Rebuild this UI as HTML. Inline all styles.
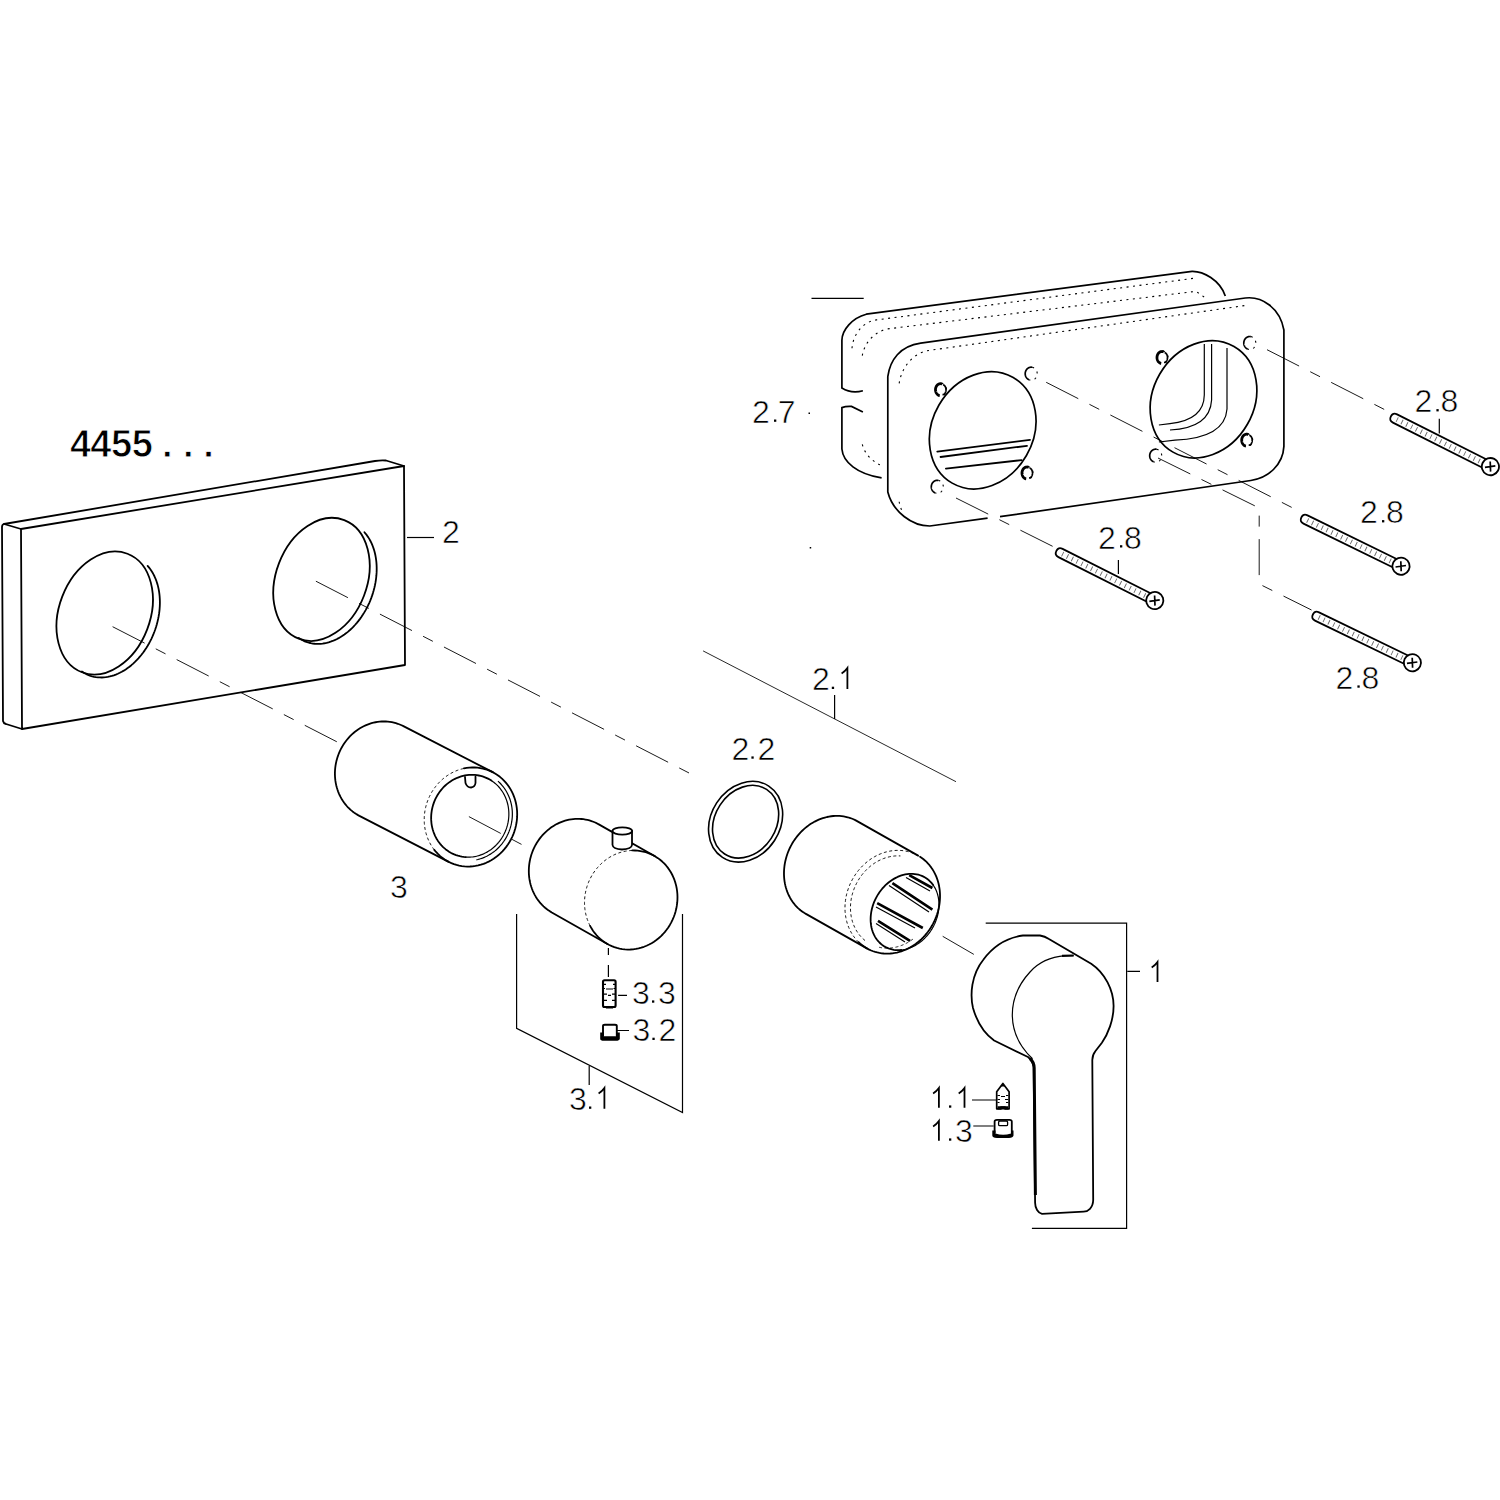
<!DOCTYPE html>
<html><head><meta charset="utf-8"><style>
html,body{margin:0;padding:0;background:#fff;}
svg{display:block;}
.k{fill:none;stroke:#000;stroke-width:1.8;stroke-linejoin:round;stroke-linecap:round;}
.t{fill:none;stroke:#000;stroke-width:1.2;}
.r{fill:none;stroke:#000;stroke-width:1.6;}
.boss{fill:none;stroke:#000;stroke-width:2.8;}
.kb{fill:none;stroke:#000;stroke-width:1.7;}
.d{fill:none;stroke:#000;stroke-width:0.9;stroke-dasharray:3 2.5;}
.dot{fill:none;stroke:#000;stroke-width:1.1;stroke-dasharray:2 4.5;}
.cl{fill:none;stroke:#000;stroke-width:0.9;stroke-dasharray:36 12.5 11 12.5;}
.hatch{fill:none;stroke:#000;stroke-width:5;stroke-dasharray:0.9 4.5;opacity:0.6;}
.lbl{font-family:"Liberation Sans",sans-serif;font-size:32px;fill:#000;stroke:#fff;stroke-width:0.6;letter-spacing:-1px;}
.g1{fill:none;stroke:#000;stroke-width:1.8;}
.title{font-family:"Liberation Sans",sans-serif;font-size:38px;font-weight:bold;fill:#000;stroke:#fff;stroke-width:0.9;}
</style></head><body>
<svg width="1500" height="1500" viewBox="0 0 1500 1500">
<rect width="1500" height="1500" fill="#fff"/>
<path class="k" d="M21,529 L4,524 Q2,524.5 2,527 L3,721 Q3.5,723.5 6,724 L22,729"/>
<path class="k" d="M4,524 L375,461 Q381,460 386,460.5 L404,466"/>
<path class="k" d="M21,529 L404,466 L405,665 L22,729 Z"/>
<ellipse class="k" cx="0" cy="0" rx="45.50" ry="63.50" transform="translate(104.70,613.00) rotate(21.00)"/>
<path class="k" d="M147.61,565.87 L148.92,567.40 L150.17,569.02 L151.35,570.71 L152.46,572.49 L153.50,574.34 L154.46,576.27 L155.35,578.26 L156.17,580.33 L156.90,582.45 L157.56,584.63 L158.14,586.87 L158.64,589.15 L159.05,591.49 L159.38,593.87 L159.63,596.28 L159.80,598.73 L159.88,601.21 L159.88,603.72 L159.79,606.25 L159.62,608.79 L159.37,611.35 L159.03,613.91 L158.61,616.48 L158.10,619.05 L157.52,621.61 L156.86,624.17 L156.12,626.71 L155.30,629.23 L154.40,631.72 L153.43,634.19 L152.39,636.63 L151.27,639.03 L150.09,641.39 L148.84,643.71 L147.52,645.98 L146.14,648.19 L144.71,650.36 L143.21,652.46 L141.66,654.49 L140.06,656.46 L138.40,658.36 L136.70,660.18 L134.96,661.93 L133.18,663.60 L131.36,665.18 L129.50,666.68 L127.62,668.09 L125.70,669.41 L123.76,670.64 L121.80,671.77 L119.83,672.80 L117.83,673.73 L115.83,674.57 L113.82,675.30 L111.81,675.92 L109.80,676.45 L107.79,676.86 L105.78,677.17 L103.79,677.38 L101.81,677.48 L99.85,677.46 L97.91,677.35 L95.99,677.12 L94.10,676.79 L92.24,676.35 L90.42,675.81 L88.63,675.16 L86.88,674.41 L85.18,673.56 L83.52,672.60 L81.91,671.55"/>
<ellipse class="k" cx="0" cy="0" rx="45.50" ry="63.50" transform="translate(321.50,579.40) rotate(21.00)"/>
<path class="k" d="M364.41,532.27 L365.72,533.80 L366.97,535.42 L368.15,537.11 L369.26,538.89 L370.30,540.74 L371.26,542.67 L372.15,544.66 L372.97,546.73 L373.70,548.85 L374.36,551.03 L374.94,553.27 L375.44,555.55 L375.85,557.89 L376.18,560.27 L376.43,562.68 L376.60,565.13 L376.68,567.61 L376.68,570.12 L376.59,572.65 L376.42,575.19 L376.17,577.75 L375.83,580.31 L375.41,582.88 L374.90,585.45 L374.32,588.01 L373.66,590.57 L372.92,593.11 L372.10,595.63 L371.20,598.12 L370.23,600.59 L369.19,603.03 L368.07,605.43 L366.89,607.79 L365.64,610.11 L364.32,612.38 L362.94,614.59 L361.51,616.76 L360.01,618.86 L358.46,620.89 L356.86,622.86 L355.20,624.76 L353.50,626.58 L351.76,628.33 L349.98,630.00 L348.16,631.58 L346.30,633.08 L344.42,634.49 L342.50,635.81 L340.56,637.04 L338.60,638.17 L336.63,639.20 L334.63,640.13 L332.63,640.97 L330.62,641.70 L328.61,642.32 L326.60,642.85 L324.59,643.26 L322.58,643.57 L320.59,643.78 L318.61,643.88 L316.65,643.86 L314.71,643.75 L312.79,643.52 L310.90,643.19 L309.04,642.75 L307.22,642.21 L305.43,641.56 L303.68,640.81 L301.98,639.96 L300.32,639.00 L298.71,637.95"/>
<path class="t" d="M407,537.5 L434,537.5"/>
<path class="k" d="M448.69,861.84 L359.39,815.84 L357.60,814.86 L355.86,813.80 L354.16,812.65 L352.52,811.42 L350.94,810.11 L349.42,808.73 L347.96,807.27 L346.56,805.75 L345.23,804.15 L343.98,802.49 L342.79,800.76 L341.69,798.98 L340.66,797.15 L339.71,795.26 L338.84,793.32 L338.05,791.35 L337.35,789.33 L336.74,787.27 L336.21,785.19 L335.77,783.07 L335.42,780.94 L335.17,778.78 L335.00,776.61 L334.92,774.42 L334.93,772.23 L335.04,770.04 L335.23,767.85 L335.52,765.67 L335.89,763.49 L336.36,761.33 L336.91,759.19 L337.55,757.08 L338.28,754.99 L339.09,752.93 L339.98,750.91 L340.95,748.92 L342.01,746.98 L343.14,745.09 L344.34,743.25 L345.62,741.46 L346.97,739.73 L348.38,738.06 L349.86,736.45 L351.40,734.92 L353.00,733.45 L354.66,732.06 L356.37,730.74 L358.12,729.50 L359.93,728.34 L361.77,727.27 L363.66,726.28 L365.57,725.38 L367.52,724.57 L369.50,723.85 L371.50,723.22 L373.52,722.69 L375.55,722.25 L377.60,721.91 L379.65,721.66 L381.71,721.51 L383.76,721.45 L385.81,721.49 L387.86,721.63 L389.89,721.87 L391.90,722.20 L393.89,722.63 L395.86,723.15 L397.80,723.77 L399.71,724.48 L401.58,725.28 L403.41,726.16 L492.71,772.16"/>
<path class="k" d="M463.90,768.44 L466.62,767.95 L469.36,767.62 L472.10,767.46 L474.84,767.48 L477.56,767.67 L480.26,768.03 L482.92,768.57 L485.55,769.27 L488.12,770.13 L490.63,771.16 L493.07,772.35 L495.44,773.70 L497.71,775.19 L499.90,776.83 L501.98,778.61 L503.95,780.53 L505.81,782.57 L507.54,784.73 L509.15,787.00 L510.63,789.38 L511.96,791.85 L513.15,794.41 L514.19,797.05 L515.09,799.76 L515.82,802.53 L516.40,805.35 L516.82,808.21 L517.09,811.10 L517.18,814.01 L517.12,816.93 L516.90,819.85 L516.51,822.77 L515.97,825.66 L515.27,828.52 L514.41,831.34 L513.40,834.11 L512.25,836.82 L510.94,839.47 L509.50,842.03 L507.92,844.51 L506.22,846.89 L504.39,849.17 L502.44,851.34 L500.38,853.38 L498.22,855.30 L495.97,857.09 L493.62,858.74 L491.20,860.24 L488.70,861.59 L486.14,862.79 L483.53,863.82 L480.87,864.70 L478.18,865.41 L475.46,865.95 L472.73,866.31 L469.99,866.51 L467.25,866.54 L464.52,866.39 L461.81,866.07 L459.14,865.58 L456.50,864.92 L453.92,864.10 L451.39,863.11 L448.93,861.96 L446.55,860.65 L444.25,859.20 L442.04,857.59 L439.93,855.85 L437.93,853.96 L436.04,851.95 L434.28,849.82"/>
<path class="d" d="M434.28,849.82 L433.44,848.71 L432.64,847.58 L431.87,846.41 L431.13,845.23 L430.43,844.01 L429.76,842.78 L429.13,841.52 L428.53,840.24 L427.97,838.93 L427.45,837.61 L426.97,836.28 L426.52,834.92 L426.12,833.55 L425.75,832.17 L425.42,830.77 L425.13,829.36 L424.88,827.94 L424.67,826.51 L424.50,825.07 L424.36,823.63 L424.27,822.17 L424.23,820.72 L424.22,819.26 L424.25,817.80 L424.32,816.34 L424.43,814.88 L424.58,813.42 L424.78,811.96 L425.01,810.51 L425.28,809.06 L425.59,807.62 L425.94,806.19 L426.33,804.77 L426.76,803.36 L427.23,801.96 L427.73,800.58 L428.27,799.20 L428.85,797.85 L429.47,796.51 L430.12,795.19 L430.80,793.88 L431.53,792.60 L432.28,791.34 L433.07,790.10 L433.89,788.89 L434.74,787.69 L435.63,786.53 L436.54,785.39 L437.49,784.28 L438.46,783.19 L439.46,782.14 L440.49,781.12 L441.55,780.13 L442.63,779.17 L443.73,778.24 L444.86,777.34 L446.01,776.49 L447.19,775.66 L448.38,774.87 L449.59,774.12 L450.82,773.41 L452.07,772.73 L453.33,772.10 L454.61,771.50 L455.91,770.94 L457.21,770.42 L458.53,769.94 L459.86,769.51 L461.20,769.11 L462.54,768.76 L463.90,768.44"/>
<path class="k" d="M465.65,857.08 L463.69,856.89 L461.75,856.60 L459.83,856.20 L457.94,855.70 L456.07,855.09 L454.25,854.39 L452.46,853.58 L450.72,852.68 L449.03,851.68 L447.39,850.59 L445.81,849.41 L444.30,848.15 L442.85,846.80 L441.47,845.37 L440.16,843.87 L438.93,842.29 L437.79,840.64 L436.72,838.94 L435.74,837.17 L434.86,835.34 L434.06,833.47 L433.35,831.55 L432.74,829.59 L432.23,827.60 L431.81,825.58 L431.49,823.53 L431.28,821.46 L431.16,819.38 L431.14,817.29 L431.23,815.19 L431.41,813.10 L431.69,811.02 L432.08,808.95 L432.56,806.89 L433.14,804.86 L433.81,802.86 L434.58,800.89 L435.44,798.97 L436.39,797.08 L437.42,795.25 L438.54,793.47 L439.74,791.74 L441.02,790.08 L442.38,788.49 L443.80,786.97 L445.30,785.52 L446.86,784.15 L448.47,782.87 L450.15,781.67 L451.87,780.56 L453.64,779.54 L455.46,778.62 L457.31,777.79 L459.20,777.06 L461.11,776.43 L463.04,775.91 L465.00,775.48 L466.96,775.17 L468.94,774.96 L470.92,774.85 L472.89,774.85 L474.86,774.96 L476.81,775.18 L478.75,775.50 L480.67,775.92 L482.55,776.45 L484.41,777.08 L486.22,777.81 L488.00,778.64 L489.73,779.57 L491.41,780.59"/>
<path class="t" d="M491.41,780.59 L492.61,781.41 L493.78,782.27 L494.92,783.18 L496.03,784.14 L497.09,785.14 L498.12,786.19 L499.11,787.27 L500.06,788.40 L500.96,789.57 L501.82,790.78 L502.64,792.02 L503.41,793.29 L504.13,794.60 L504.81,795.94 L505.43,797.30 L506.01,798.69 L506.53,800.11 L507.00,801.55 L507.42,803.01 L507.79,804.49 L508.11,805.98 L508.37,807.49 L508.57,809.01 L508.72,810.54 L508.82,812.08 L508.86,813.62 L508.85,815.17 L508.78,816.72 L508.66,818.26 L508.48,819.81 L508.25,821.34 L507.96,822.88 L507.62,824.40 L507.23,825.91 L506.78,827.40 L506.28,828.88 L505.73,830.34 L505.13,831.78 L504.48,833.20 L503.78,834.59 L503.04,835.96 L502.25,837.30 L501.41,838.61 L500.52,839.89 L499.60,841.13 L498.63,842.34 L497.62,843.51 L496.57,844.64 L495.49,845.73 L494.37,846.78 L493.21,847.79 L492.02,848.75 L490.80,849.66 L489.56,850.53 L488.28,851.35 L486.98,852.12 L485.65,852.83 L484.30,853.50 L482.93,854.11 L481.55,854.67 L480.14,855.17 L478.72,855.62 L477.29,856.01 L475.85,856.34 L474.40,856.62 L472.95,856.84 L471.49,857.01 L470.03,857.11 L468.57,857.16 L467.11,857.15 L465.65,857.08"/>
<path class="t" d="M497.96,781.18 L498.96,782.09 L499.94,783.03 L500.88,784.01 L501.79,785.03 L502.67,786.07 L503.51,787.14 L504.32,788.25 L505.10,789.38 L505.84,790.54 L506.54,791.72 L507.21,792.93 L507.84,794.17 L508.43,795.42 L508.98,796.70 L509.49,798.00 L509.96,799.31 L510.39,800.64 L510.77,801.99 L511.12,803.35 L511.42,804.73 L511.69,806.12 L511.91,807.51 L512.08,808.92 L512.22,810.33 L512.31,811.75 L512.35,813.17 L512.36,814.60 L512.32,816.02 L512.24,817.45 L512.11,818.88 L511.94,820.30 L511.73,821.72 L511.48,823.13 L511.18,824.53 L510.84,825.93 L510.46,827.32 L510.04,828.69 L509.58,830.05 L509.08,831.40 L508.53,832.73 L507.95,834.05 L507.33,835.34 L506.67,836.62 L505.98,837.87 L505.24,839.11 L504.47,840.32 L503.67,841.50 L502.83,842.66 L501.96,843.79 L501.06,844.89 L500.12,845.97 L499.15,847.01 L498.15,848.02 L497.13,849.00 L496.08,849.94 L495.00,850.85 L493.89,851.73 L492.76,852.57 L491.61,853.37 L490.43,854.13 L489.24,854.85 L488.02,855.54 L486.79,856.18 L485.53,856.78 L484.27,857.34 L482.99,857.86 L481.69,858.34 L480.38,858.77 L479.07,859.16 L477.74,859.50 L476.40,859.80"/>
<path class="k" d="M465,777 L465.5,783 Q467,787.5 471,787.5 Q475,787 475.5,783 L475.5,776.5"/>
<path class="k" d="M607.48,944.02 L551.78,912.42 L550.03,911.37 L548.33,910.24 L546.68,909.02 L545.09,907.73 L543.55,906.35 L542.08,904.91 L540.68,903.39 L539.34,901.80 L538.07,900.15 L536.87,898.44 L535.76,896.67 L534.71,894.84 L533.75,892.96 L532.87,891.03 L532.07,889.06 L531.36,887.05 L530.73,885.00 L530.19,882.92 L529.74,880.81 L529.37,878.67 L529.10,876.52 L528.92,874.35 L528.83,872.17 L528.83,869.98 L528.92,867.79 L529.10,865.60 L529.37,863.41 L529.73,861.24 L530.18,859.07 L530.72,856.93 L531.34,854.81 L532.06,852.72 L532.85,850.65 L533.73,848.62 L534.69,846.63 L535.74,844.68 L536.85,842.78 L538.05,840.93 L539.31,839.14 L540.65,837.40 L542.05,835.72 L543.52,834.10 L545.06,832.55 L546.65,831.07 L548.29,829.67 L549.99,828.34 L551.74,827.09 L553.54,825.92 L555.38,824.83 L557.26,823.83 L559.17,822.92 L561.11,822.09 L563.08,821.36 L565.08,820.72 L567.10,820.17 L569.13,819.71 L571.17,819.35 L573.22,819.09 L575.28,818.92 L577.34,818.85 L579.39,818.88 L581.43,819.00 L583.47,819.23 L585.48,819.54 L587.48,819.96 L589.45,820.46 L591.40,821.06 L593.31,821.76 L595.19,822.54 L597.03,823.42 L598.82,824.38 L654.52,855.98"/>
<path class="k" d="M632.29,850.47 L635.02,850.48 L637.75,850.66 L640.45,851.02 L643.11,851.54 L645.74,852.23 L648.31,853.09 L650.83,854.12 L653.27,855.30 L655.64,856.64 L657.92,858.13 L660.11,859.76 L662.19,861.54 L664.17,863.44 L666.03,865.48 L667.78,867.64 L669.39,869.90 L670.87,872.28 L672.21,874.75 L673.40,877.30 L674.45,879.94 L675.35,882.65 L676.10,885.41 L676.68,888.23 L677.11,891.09 L677.38,893.98 L677.48,896.89 L677.43,899.81 L677.21,902.73 L676.83,905.64 L676.30,908.54 L675.60,911.40 L674.75,914.22 L673.75,917.00 L672.60,919.71 L671.30,922.36 L669.86,924.93 L668.29,927.41 L666.59,929.79 L664.77,932.08 L662.82,934.25 L660.77,936.30 L658.61,938.22 L656.36,940.02 L654.02,941.67 L651.60,943.18 L649.11,944.54 L646.55,945.74 L643.94,946.78 L641.28,947.66 L638.59,948.38 L635.88,948.93 L633.14,949.30 L630.40,949.51 L627.66,949.54 L624.93,949.40 L622.23,949.09 L619.55,948.61 L616.91,947.96 L614.32,947.14 L611.80,946.15 L609.33,945.01 L606.95,943.71 L604.64,942.26 L602.43,940.66 L600.32,938.92 L598.31,937.05 L596.42,935.04 L594.65,932.91 L593.00,930.67 L591.49,928.33 L590.11,925.88"/>
<path class="d" d="M590.11,925.88 L589.48,924.62 L588.88,923.34 L588.32,922.04 L587.80,920.73 L587.31,919.39 L586.86,918.04 L586.45,916.67 L586.08,915.28 L585.74,913.89 L585.45,912.48 L585.20,911.06 L584.98,909.63 L584.81,908.19 L584.67,906.75 L584.58,905.30 L584.53,903.84 L584.52,902.38 L584.54,900.92 L584.61,899.46 L584.72,898.00 L584.87,896.54 L585.06,895.08 L585.29,893.63 L585.56,892.18 L585.86,890.74 L586.21,889.31 L586.60,887.89 L587.02,886.48 L587.49,885.08 L587.99,883.69 L588.53,882.32 L589.10,880.96 L589.71,879.62 L590.36,878.30 L591.05,876.99 L591.76,875.71 L592.52,874.44 L593.30,873.20 L594.12,871.99 L594.97,870.79 L595.85,869.63 L596.77,868.48 L597.71,867.37 L598.68,866.28 L599.68,865.23 L600.71,864.20 L601.76,863.21 L602.84,862.24 L603.94,861.31 L605.07,860.42 L606.22,859.56 L607.39,858.73 L608.58,857.94 L609.79,857.18 L611.02,856.47 L612.27,855.79 L613.53,855.15 L614.81,854.55 L616.10,853.98 L617.40,853.46 L618.72,852.98 L620.05,852.54 L621.39,852.14 L622.73,851.78 L624.08,851.47 L625.44,851.19 L626.81,850.96 L628.17,850.78 L629.54,850.63 L630.91,850.53 L632.29,850.47"/>
<path class="k" fill="#fff" style="fill:#fff" d="M612.5,831 L612.5,845 Q613,849 622,849.5 Q631.5,849 632,845 L632,831 Z"/>
<ellipse class="k" style="fill:#fff" cx="622.3" cy="831" rx="9.8" ry="3.6"/>
<path class="t" d="M516.6,914 L516.6,1028.3 L682.5,1112.6 L682.5,914"/>
<path class="t" d="M589.2,1066 L589.2,1085"/>
<path class="t" d="M608.4,948 L608.4,955 M608.4,965 L608.4,977"/>
<rect style="fill:none;stroke:#000;stroke-width:2.1" x="603" y="980.2" width="12.6" height="26.8" rx="1.5"/>
<path class="t" d="M603.5,984.3 L606,984.3 M613,984.3 L615,984.3 M603.5,988.5 L605,988.5 M613.5,988.5 L615,988.5 M606,989 L613,989 M603.5,994.1 L607,994.1 M612,994.1 L615,994.1 M608,995.4 L611,995.4 M603.5,1000.4 L607,1000.4 M612,1000.4 L615,1000.4 M618.1,995.4 L627,995.4 M617,1030.5 L629,1030.5"/>
<path style="fill:#000" d="M605,1006 L614,1006 L613,1008.5 L606,1008.5 Z"/>
<path style="fill:none;stroke:#000;stroke-width:1.9" d="M603,1036 L603,1026 Q603,1024.8 604.8,1024.8 L615,1024.8 Q616.8,1024.8 616.8,1026 L616.8,1036"/>
<path style="fill:#000" d="M600.2,1032.5 L603.8,1032.5 L603.8,1036.3 L616,1036.3 L616,1032.5 L619.8,1032.5 L619.8,1038.8 Q619.3,1040.8 616,1040.8 L604,1040.8 Q600.2,1040.8 600.2,1038.8 Z"/>
<ellipse class="r" cx="0" cy="0" rx="34.50" ry="42.50" transform="translate(745.60,821.70) rotate(33.00)"/>
<ellipse class="r" cx="0" cy="0" rx="30.50" ry="38.50" transform="translate(745.60,821.70) rotate(33.00)"/>
<path class="k" d="M866.91,948.40 L805.91,913.90 L804.16,912.85 L802.47,911.72 L800.83,910.50 L799.26,909.19 L797.74,907.80 L796.30,906.33 L794.92,904.79 L793.61,903.17 L792.38,901.49 L791.23,899.73 L790.15,897.92 L789.15,896.04 L788.24,894.11 L787.41,892.13 L786.67,890.10 L786.02,888.02 L785.45,885.91 L784.98,883.75 L784.59,881.57 L784.30,879.36 L784.10,877.12 L783.99,874.87 L783.98,872.60 L784.06,870.32 L784.23,868.04 L784.49,865.76 L784.85,863.48 L785.30,861.20 L785.84,858.94 L786.46,856.70 L787.18,854.48 L787.98,852.28 L788.87,850.11 L789.84,847.98 L790.89,845.88 L792.03,843.83 L793.24,841.82 L794.52,839.87 L795.88,837.96 L797.30,836.12 L798.80,834.34 L800.36,832.62 L801.97,830.97 L803.65,829.39 L805.38,827.89 L807.16,826.46 L808.99,825.11 L810.87,823.85 L812.78,822.67 L814.73,821.58 L816.71,820.58 L818.73,819.68 L820.76,818.86 L822.82,818.14 L824.90,817.52 L826.99,817.00 L829.08,816.57 L831.19,816.24 L833.29,816.02 L835.39,815.89 L837.48,815.87 L839.56,815.95 L841.62,816.12 L843.67,816.40 L845.69,816.78 L847.68,817.26 L849.64,817.84 L851.57,818.51 L853.45,819.28 L855.29,820.14 L857.09,821.10 L918.09,855.60"/>
<path class="k" d="M920.04,856.78 L921.82,857.99 L923.53,859.30 L925.18,860.70 L926.76,862.19 L928.26,863.77 L929.68,865.43 L931.02,867.17 L932.28,868.99 L933.45,870.88 L934.53,872.84 L935.52,874.86 L936.42,876.94 L937.22,879.08 L937.92,881.26 L938.53,883.49 L939.03,885.76 L939.43,888.07 L939.73,890.41 L939.93,892.77 L940.02,895.15 L940.01,897.55 L939.89,899.95 L939.68,902.37 L939.36,904.78 L938.93,907.18 L938.41,909.57 L937.79,911.95 L937.06,914.30 L936.24,916.63 L935.33,918.93 L934.32,921.19 L933.22,923.40 L932.03,925.58 L930.75,927.69 L929.40,929.76 L927.96,931.76 L926.44,933.70 L924.85,935.57 L923.19,937.36 L921.46,939.08 L919.67,940.72 L917.82,942.27 L915.91,943.73 L913.96,945.11 L911.95,946.39 L909.91,947.57 L907.82,948.66 L905.71,949.64 L903.56,950.52 L901.39,951.29 L899.20,951.95 L897.00,952.51 L894.78,952.95 L892.56,953.29 L890.35,953.51 L888.13,953.62 L885.93,953.62 L883.74,953.50 L881.56,953.28 L879.42,952.94 L877.30,952.49 L875.21,951.93 L873.16,951.26 L871.16,950.48 L869.20,949.60 L867.29,948.61 L865.44,947.53 L863.64,946.34 L861.91,945.06 L860.24,943.68 L858.65,942.21"/>
<path class="d" d="M858.65,942.21 L857.29,940.82 L855.98,939.36 L854.74,937.84 L853.57,936.26 L852.47,934.62 L851.43,932.91 L850.47,931.16 L849.58,929.35 L848.76,927.50 L848.02,925.60 L847.36,923.66 L846.78,921.69 L846.28,919.67 L845.86,917.63 L845.52,915.56 L845.26,913.47 L845.08,911.36 L844.99,909.23 L844.98,907.08 L845.05,904.93 L845.21,902.78 L845.45,900.62 L845.77,898.46 L846.17,896.31 L846.65,894.18 L847.21,892.05 L847.86,889.94 L848.58,887.86 L849.37,885.79 L850.25,883.76 L851.19,881.76 L852.21,879.79 L853.30,877.86 L854.46,875.98 L855.68,874.14 L856.97,872.34 L858.32,870.60 L859.73,868.92 L861.19,867.29 L862.71,865.72 L864.29,864.22 L865.91,862.78 L867.58,861.41 L869.29,860.12 L871.04,858.89 L872.83,857.74 L874.66,856.67 L876.51,855.68 L878.40,854.76 L880.31,853.93 L882.24,853.19 L884.18,852.53 L886.15,851.95 L888.12,851.47 L890.10,851.07 L892.09,850.76 L894.07,850.54 L896.05,850.41 L898.03,850.37 L900.00,850.41 L901.95,850.55 L903.89,850.78 L905.81,851.10 L907.70,851.51 L909.57,852.01 L911.41,852.59 L913.21,853.26 L914.98,854.02 L916.71,854.85 L918.40,855.77 L920.04,856.78"/>
<path class="d" d="M865.00,940.49 L863.84,939.52 L862.73,938.51 L861.66,937.44 L860.62,936.33 L859.63,935.17 L858.69,933.96 L857.79,932.71 L856.94,931.42 L856.14,930.09 L855.39,928.72 L854.68,927.32 L854.03,925.88 L853.43,924.41 L852.89,922.91 L852.40,921.38 L851.96,919.82 L851.58,918.24 L851.25,916.63 L850.98,915.01 L850.76,913.37 L850.61,911.71 L850.51,910.04 L850.46,908.36 L850.48,906.67 L850.55,904.98 L850.68,903.28 L850.86,901.58 L851.10,899.88 L851.40,898.18 L851.75,896.49 L852.16,894.80 L852.63,893.13 L853.14,891.46 L853.72,889.81 L854.34,888.18 L855.02,886.57 L855.74,884.98 L856.52,883.41 L857.35,881.86 L858.22,880.34 L859.14,878.86 L860.11,877.40 L861.12,875.98 L862.17,874.59 L863.26,873.24 L864.40,871.93 L865.57,870.66 L866.78,869.43 L868.02,868.25 L869.30,867.11 L870.60,866.02 L871.94,864.98 L873.31,863.99 L874.70,863.05 L876.11,862.17 L877.55,861.34 L879.01,860.56 L880.49,859.84 L881.98,859.18 L883.49,858.57 L885.01,858.03 L886.54,857.54 L888.08,857.12 L889.62,856.75 L891.17,856.45 L892.72,856.21 L894.27,856.03 L895.82,855.91 L897.36,855.86 L898.89,855.87 L900.42,855.94"/>
<path class="d" d="M912.97,939.08 L912.52,939.42 L912.06,939.75 L911.60,940.07 L911.14,940.39 L910.68,940.70 L910.21,941.01 L909.74,941.31 L909.27,941.60 L908.79,941.89 L908.31,942.17 L907.83,942.45 L907.35,942.72 L906.87,942.98 L906.38,943.24 L905.89,943.49 L905.40,943.74 L904.91,943.97 L904.41,944.21 L903.92,944.43 L903.42,944.65 L902.92,944.87 L902.42,945.07 L901.91,945.27 L901.41,945.47 L900.90,945.65 L900.40,945.83 L899.89,946.01 L899.38,946.17 L898.87,946.34 L898.36,946.49 L897.85,946.64 L897.33,946.78 L896.82,946.91 L896.31,947.04 L895.79,947.16 L895.28,947.27 L894.76,947.38 L894.24,947.48 L893.73,947.57 L893.21,947.66 L892.69,947.73 L892.18,947.81 L891.66,947.87 L891.14,947.93 L890.63,947.98 L890.11,948.02 L889.60,948.06 L889.08,948.09 L888.57,948.12 L888.05,948.13 L887.54,948.14 L887.03,948.14 L886.51,948.14 L886.00,948.13 L885.49,948.11 L884.98,948.08 L884.48,948.05 L883.97,948.01 L883.46,947.97 L882.96,947.91 L882.46,947.85 L881.96,947.79 L881.46,947.71 L880.96,947.63 L880.46,947.54 L879.97,947.45 L879.48,947.35 L878.99,947.24 L878.50,947.12 L878.01,947.00 L877.53,946.87"/>
<path class="k" d="M901.34,950.00 L899.42,950.14 L897.52,950.15 L895.65,950.04 L893.80,949.81 L891.99,949.46 L890.22,948.99 L888.50,948.40 L886.82,947.69 L885.21,946.87 L883.66,945.94 L882.18,944.90 L880.76,943.76 L879.43,942.51 L878.18,941.17 L877.01,939.73 L875.93,938.21 L874.94,936.60 L874.05,934.91 L873.26,933.15 L872.56,931.32 L871.97,929.43 L871.49,927.48 L871.11,925.49 L870.84,923.45 L870.68,921.38 L870.62,919.27 L870.68,917.14 L870.85,915.00 L871.12,912.84 L871.50,910.69 L871.99,908.53 L872.58,906.39 L873.28,904.27 L874.07,902.17 L874.97,900.10 L875.96,898.07 L877.04,896.09 L878.21,894.15 L879.46,892.27 L880.80,890.46 L882.21,888.71 L883.70,887.04 L885.25,885.45 L886.87,883.95 L888.54,882.53 L890.27,881.21 L892.04,879.98 L893.85,878.86 L895.70,877.84 L897.57,876.94 L899.47,876.14 L901.39,875.46 L903.31,874.90 L905.25,874.45 L907.18,874.13 L909.10,873.93 L911.01,873.84 L912.90,873.88 L914.76,874.05 L916.59,874.33 L918.39,874.73 L920.14,875.25 L921.84,875.89 L923.48,876.65 L925.07,877.52 L926.59,878.50 L928.05,879.58 L929.43,880.77 L930.73,882.06 L931.94,883.44 L933.07,884.92"/>
<path class="t" d="M933.07,884.92 L933.67,885.79 L934.24,886.69 L934.78,887.62 L935.29,888.57 L935.77,889.54 L936.21,890.54 L936.63,891.56 L937.01,892.60 L937.36,893.66 L937.67,894.74 L937.95,895.83 L938.20,896.95 L938.42,898.07 L938.60,899.22 L938.74,900.37 L938.85,901.54 L938.93,902.72 L938.97,903.90 L938.97,905.10 L938.95,906.30 L938.88,907.51 L938.78,908.72 L938.65,909.94 L938.48,911.16 L938.28,912.38 L938.04,913.60 L937.77,914.81 L937.47,916.03 L937.13,917.24 L936.76,918.44 L936.36,919.64 L935.92,920.83 L935.45,922.01 L934.96,923.18 L934.43,924.34 L933.87,925.49 L933.28,926.63 L932.66,927.74 L932.01,928.85 L931.34,929.93 L930.64,931.00 L929.91,932.05 L929.16,933.07 L928.38,934.08 L927.57,935.06 L926.75,936.02 L925.90,936.96 L925.03,937.87 L924.14,938.75 L923.23,939.61 L922.30,940.43 L921.35,941.23 L920.39,942.00 L919.41,942.74 L918.42,943.44 L917.41,944.12 L916.39,944.76 L915.35,945.37 L914.31,945.94 L913.25,946.48 L912.19,946.99 L911.12,947.46 L910.05,947.89 L908.96,948.28 L907.88,948.64 L906.79,948.96 L905.70,949.25 L904.61,949.49 L903.51,949.70 L902.42,949.87 L901.34,950.00"/>
<clipPath id="bore"><ellipse cx="0" cy="0" rx="31.5" ry="39.5" transform="translate(904.8,912) rotate(30)"/></clipPath>
<g clip-path="url(#bore)"><path style="fill:none;stroke:#000;stroke-width:2.6" d="M892.4,883.2 L932.4,909.6 M877.2,903.2 L922.8,928 M878,920.8 L910,940.8 M909.2,875.2 L932.4,888"/><path class="t" d="M889,885.5 L929,912 M876,907 L915,928 M876,923.5 L905,942 M906,877.5 L930,891"/></g>
<path class="t" d="M834.6,695 L834.6,719"/>
<path class="k" d="M1022.9,935.5 L1040,935.5 Q1045,936.5 1048.5,938.7 L1091.2,963.7 C1105,973 1113.6,990 1113.6,1006 C1113.6,1020 1108,1034 1101.9,1042.7 L1095.5,1051 Q1092.3,1055 1092.3,1060 L1093.2,1200 C1093,1208 1088,1211.5 1083.6,1211.7 L1042,1213.9 C1038,1213 1035.1,1208 1035.1,1202.7 L1033.6,1067 Q1033,1061 1028,1057 L994.1,1040.5 C985,1034 977,1022 973,1008 C970,995 971,975 983.5,959.5 C992,948 1005,938 1022.9,935.5 Z"/>
<path style="fill:none;stroke:#000;stroke-width:3" d="M1030,1058.5 Q1034,1062 1034.2,1068 L1035.4,1195"/>
<path class="t" d="M1073.6,955.7 L1065,955.7 C1050,957 1038,963 1030,972 C1018,985 1012.3,1000 1012.3,1015 C1012.5,1032 1020,1047 1032.5,1058.7"/>
<path style="fill:none;stroke:#000;stroke-width:2.2" d="M1062,955.8 L1073.6,955.5"/>
<path class="t" d="M985.7,923.1 L1126.6,923.1 L1126.6,1228.3 L1031.9,1228.3 M1127.4,971.4 L1140,971.4"/>
<path class="t" d="M972,1100 L996,1100 M973.3,1126 L993.7,1126"/>
<path style="fill:none;stroke:#000;stroke-width:1.7;stroke-linejoin:round" d="M996.7,1108.8 L996.7,1091.8 L1002.9,1083.5 L1009.1,1091.8 L1009.1,1108.8 L1005,1108.8 L1005,1107 L1001,1107 L1001,1108.8 Z"/>
<path style="fill:#000" d="M1001,1086.5 L1002.9,1083.5 L1005,1086.5 Z M997.5,1106.3 L1008.3,1106.3 L1008.3,1109.6 L997.5,1109.6 Z"/>
<path class="t" d="M997.5,1095.5 L1000,1095.5 M1006,1095.5 L1008.3,1095.5 M1001,1096.5 L1005,1096.5 M997.5,1099.5 L1000,1099.5 M1005,1099.5 L1008.3,1099.5 M997.5,1102.5 L999.5,1102.5 M1006,1102.5 L1008.3,1102.5"/>
<path style="fill:none;stroke:#000;stroke-width:1.8" d="M994.6,1133 L994.6,1121.5 Q994.6,1119.8 997,1119.8 L1009.5,1119.8 Q1011.8,1119.8 1011.8,1121.5 L1011.8,1133"/>
<rect style="fill:none;stroke:#000;stroke-width:1.3" x="998.6" y="1121" width="9" height="4.6" rx="1.2"/>
<path style="fill:#000" d="M992.3,1130.5 L995.5,1130.5 L995.5,1133.5 Q1003,1136 1011,1133.5 L1011,1130.5 L1013.5,1130.5 L1013.5,1135.5 Q1013,1137.8 1009,1138 L997,1138 Q992.3,1137.8 992.3,1135.5 Z"/>
<path class="kb" d="M862.9,390.7 Q851.5,394 841.9,388 L841.9,340.3 C842,330 852,318 866.3,314.2 L1192,271.3 C1203,271 1220,280 1225.3,296"/>
<path class="kb" d="M862.9,412.1 L851.5,406.4 Q846,406 841.9,407.6 L841.9,449 C843,462 857,474 881.6,477.9"/>
<path class="t" d="M811.5,298.4 L863.7,298.4"/>
<path class="dot" d="M852,348.2 C853,335 862,322 876.5,319.9 L1196,278 M862.3,355.6 C864,345 872,333 886.7,329 L1196,291.3 L1207,299 M862.3,444.4 Q866,458 879.9,464.8"/>
<rect x="808.5" y="412.5" width="1.5" height="1.5"/><rect x="809.7" y="547" width="1.5" height="1.5"/>
<path class="kb" d="M987.6,518.1 L929.8,526 C912,526 893,512 887.8,492 L887.8,376.6 C890,360 900,346 920.7,343.1 L1245.3,298 C1262,296 1280,308 1283.9,330 L1283.9,446.4 C1283,465 1268,478 1250.8,480.5 L1000,516.7"/>
<path class="dot" d="M899.2,383.4 C901,370 910,356 925.2,351 L1246.7,305.3 M899.2,501.7 Q900,508 903.7,513.6"/>
<ellipse class="kb" cx="0" cy="0" rx="50.50" ry="61.00" transform="translate(982.70,430.30) rotate(30.00)"/>
<ellipse class="kb" cx="0" cy="0" rx="50.50" ry="61.00" transform="translate(1203.50,399.30) rotate(30.00)"/>
<path class="boss" d="M939.63,395.61 L939.40,395.55 L939.18,395.49 L938.95,395.41 L938.73,395.31 L938.52,395.21 L938.30,395.09 L938.10,394.96 L937.89,394.82 L937.70,394.67 L937.51,394.51 L937.32,394.33 L937.15,394.15 L936.98,393.96 L936.82,393.76 L936.66,393.55 L936.52,393.33 L936.38,393.10 L936.25,392.86 L936.13,392.62 L936.02,392.38 L935.93,392.12 L935.84,391.86 L935.76,391.60 L935.69,391.33 L935.63,391.06 L935.58,390.79 L935.55,390.51 L935.52,390.23 L935.50,389.95 L935.50,389.67 L935.51,389.39 L935.52,389.11 L935.55,388.83 L935.59,388.56 L935.64,388.28 L935.70,388.01 L935.77,387.75 L935.85,387.48 L935.95,387.22 L936.05,386.97 L936.16,386.73 L936.28,386.49 L936.41,386.25 L936.55,386.03 L936.69,385.81 L936.85,385.60 L937.01,385.40 L937.18,385.21 L937.36,385.03 L937.55,384.86 L937.74,384.70 L937.94,384.55 L938.14,384.41 L938.35,384.28 L938.56,384.17 L938.78,384.07 L939.00,383.98 L939.22,383.90 L939.45,383.83 L939.68,383.78 L939.91,383.74 L940.14,383.72 L940.38,383.70 L940.61,383.70 L940.84,383.71 L941.08,383.74 L941.31,383.78 L941.54,383.83 L941.76,383.90 L941.99,383.97 L942.21,384.06"/>
<path class="kb" d="M943.11,384.78 L943.25,384.82 L943.39,384.87 L943.53,384.92 L943.67,384.99 L943.81,385.06 L943.94,385.15 L944.08,385.24 L944.21,385.33 L944.33,385.44 L944.45,385.55 L944.57,385.67 L944.69,385.80 L944.80,385.93 L944.91,386.07 L945.01,386.22 L945.11,386.37 L945.21,386.53 L945.30,386.70 L945.38,386.87 L945.46,387.04 L945.54,387.22 L945.61,387.40 L945.67,387.59 L945.73,387.78 L945.79,387.98 L945.83,388.18 L945.88,388.38 L945.91,388.58 L945.94,388.78 L945.96,388.99 L945.98,389.20 L945.99,389.41 L946.00,389.61 L946.00,389.82 L945.99,390.03 L945.98,390.24 L945.96,390.45 L945.94,390.65 L945.90,390.86 L945.87,391.06 L945.83,391.26 L945.78,391.46 L945.72,391.65 L945.66,391.84 L945.60,392.03 L945.53,392.21 L945.45,392.39 L945.37,392.56 L945.28,392.73 L945.19,392.90 L945.10,393.05 L945.00,393.20 L944.89,393.35 L944.78,393.49 L944.67,393.62 L944.55,393.75 L944.43,393.87 L944.31,393.98 L944.18,394.08 L944.05,394.18 L943.92,394.27 L943.79,394.35 L943.65,394.42 L943.51,394.49 L943.37,394.54 L943.23,394.59 L943.08,394.63 L942.94,394.66 L942.79,394.68 L942.65,394.70 L942.50,394.70"/>
<path class="dot" d="M941.54,383.30 L941.82,383.36 L942.09,383.43 L942.36,383.52 L942.62,383.62 L942.88,383.73 L943.14,383.86 L943.38,384.00 L943.63,384.15 L943.86,384.32 L944.09,384.49 L944.31,384.68 L944.52,384.88 L944.73,385.09 L944.92,385.31 L945.11,385.53 L945.28,385.77 L945.44,386.02 L945.60,386.27 L945.74,386.53 L945.87,386.80 L945.99,387.08 L946.10,387.36 L946.19,387.64 L946.27,387.93 L946.34,388.23 L946.40,388.52 L946.45,388.82 L946.48,389.13 L946.49,389.43 L946.50,389.73 L946.49,390.04 L946.47,390.34 L946.44,390.64 L946.39,390.94 L946.33,391.24 L946.26,391.53 L946.17,391.82 L946.08,392.10 L945.97,392.38 L945.84,392.66 L945.71,392.92 L945.57,393.18 L945.41,393.43 L945.24,393.68 L945.07,393.91 L944.88,394.14 L944.68,394.36 L944.48,394.56 L944.27,394.76 L944.04,394.95 L943.81,395.12 L943.58,395.28 L943.33,395.43 L943.08,395.57 L942.83,395.69 L942.57,395.80 L942.30,395.90 L942.03,395.98 L941.76,396.06 L941.48,396.11 L941.21,396.15 L940.93,396.18 L940.65,396.20 L940.37,396.20 L940.09,396.18 L939.81,396.16 L939.53,396.11 L939.26,396.06 L938.98,395.99 L938.71,395.91 L938.45,395.81"/>
<path class="kb" d="M1029.15,379.81 L1028.91,379.71 L1028.68,379.60 L1028.46,379.48 L1028.24,379.35 L1028.02,379.21 L1027.81,379.07 L1027.61,378.91 L1027.41,378.74 L1027.22,378.56 L1027.04,378.38 L1026.86,378.19 L1026.69,377.99 L1026.53,377.78 L1026.38,377.56 L1026.23,377.34 L1026.09,377.11 L1025.97,376.88 L1025.85,376.64 L1025.74,376.40 L1025.64,376.15 L1025.55,375.89 L1025.47,375.64 L1025.40,375.37 L1025.34,375.11 L1025.29,374.84 L1025.25,374.58 L1025.23,374.31 L1025.21,374.04 L1025.20,373.76 L1025.20,373.49 L1025.22,373.22 L1025.24,372.95 L1025.27,372.68 L1025.32,372.41 L1025.37,372.15 L1025.44,371.89 L1025.51,371.63 L1025.60,371.37 L1025.69,371.12 L1025.80,370.87 L1025.91,370.63 L1026.03,370.39 L1026.17,370.16 L1026.31,369.94 L1026.46,369.72 L1026.61,369.51 L1026.78,369.31 L1026.95,369.11 L1027.13,368.92 L1027.32,368.74 L1027.52,368.57 L1027.72,368.41 L1027.92,368.25 L1028.14,368.11 L1028.35,367.98 L1028.58,367.85 L1028.81,367.74 L1029.04,367.64 L1029.27,367.54 L1029.51,367.46 L1029.75,367.39 L1030.00,367.33 L1030.25,367.28 L1030.49,367.25 L1030.74,367.22 L1030.99,367.20 L1031.24,367.20 L1031.49,367.21 L1031.74,367.23 L1031.99,367.26 L1032.24,367.30"/>
<path class="dot" d="M1032.24,367.30 L1032.52,367.36 L1032.79,367.43 L1033.06,367.52 L1033.32,367.62 L1033.58,367.73 L1033.84,367.86 L1034.08,368.00 L1034.33,368.15 L1034.56,368.32 L1034.79,368.49 L1035.01,368.68 L1035.22,368.88 L1035.43,369.09 L1035.62,369.31 L1035.81,369.53 L1035.98,369.77 L1036.14,370.02 L1036.30,370.27 L1036.44,370.53 L1036.57,370.80 L1036.69,371.08 L1036.80,371.36 L1036.89,371.64 L1036.97,371.93 L1037.04,372.23 L1037.10,372.52 L1037.15,372.82 L1037.18,373.13 L1037.19,373.43 L1037.20,373.73 L1037.19,374.04 L1037.17,374.34 L1037.14,374.64 L1037.09,374.94 L1037.03,375.24 L1036.96,375.53 L1036.87,375.82 L1036.78,376.10 L1036.67,376.38 L1036.54,376.66 L1036.41,376.92 L1036.27,377.18 L1036.11,377.43 L1035.94,377.68 L1035.77,377.91 L1035.58,378.14 L1035.38,378.36 L1035.18,378.56 L1034.97,378.76 L1034.74,378.95 L1034.51,379.12 L1034.28,379.28 L1034.03,379.43 L1033.78,379.57 L1033.53,379.69 L1033.27,379.80 L1033.00,379.90 L1032.73,379.98 L1032.46,380.06 L1032.18,380.11 L1031.91,380.15 L1031.63,380.18 L1031.35,380.20 L1031.07,380.20 L1030.79,380.18 L1030.51,380.16 L1030.23,380.11 L1029.96,380.06 L1029.68,379.99 L1029.41,379.91 L1029.15,379.81"/>
<path class="kb" d="M935.25,492.91 L935.01,492.81 L934.78,492.70 L934.56,492.58 L934.34,492.45 L934.12,492.31 L933.91,492.17 L933.71,492.01 L933.51,491.84 L933.32,491.66 L933.14,491.48 L932.96,491.29 L932.79,491.09 L932.63,490.88 L932.48,490.66 L932.33,490.44 L932.19,490.21 L932.07,489.98 L931.95,489.74 L931.84,489.50 L931.74,489.25 L931.65,488.99 L931.57,488.74 L931.50,488.47 L931.44,488.21 L931.39,487.94 L931.35,487.68 L931.33,487.41 L931.31,487.14 L931.30,486.86 L931.30,486.59 L931.32,486.32 L931.34,486.05 L931.37,485.78 L931.42,485.51 L931.47,485.25 L931.54,484.99 L931.61,484.73 L931.70,484.47 L931.79,484.22 L931.90,483.97 L932.01,483.73 L932.13,483.49 L932.27,483.26 L932.41,483.04 L932.56,482.82 L932.71,482.61 L932.88,482.41 L933.05,482.21 L933.23,482.02 L933.42,481.84 L933.62,481.67 L933.82,481.51 L934.02,481.35 L934.24,481.21 L934.45,481.08 L934.68,480.95 L934.91,480.84 L935.14,480.74 L935.37,480.64 L935.61,480.56 L935.85,480.49 L936.10,480.43 L936.35,480.38 L936.59,480.35 L936.84,480.32 L937.09,480.30 L937.34,480.30 L937.59,480.31 L937.84,480.33 L938.09,480.36 L938.34,480.40"/>
<path class="dot" d="M938.34,480.40 L938.62,480.46 L938.89,480.53 L939.16,480.62 L939.42,480.72 L939.68,480.83 L939.94,480.96 L940.18,481.10 L940.43,481.25 L940.66,481.42 L940.89,481.59 L941.11,481.78 L941.32,481.98 L941.53,482.19 L941.72,482.41 L941.91,482.63 L942.08,482.87 L942.24,483.12 L942.40,483.37 L942.54,483.63 L942.67,483.90 L942.79,484.18 L942.90,484.46 L942.99,484.74 L943.07,485.03 L943.14,485.33 L943.20,485.62 L943.25,485.92 L943.28,486.23 L943.29,486.53 L943.30,486.83 L943.29,487.14 L943.27,487.44 L943.24,487.74 L943.19,488.04 L943.13,488.34 L943.06,488.63 L942.97,488.92 L942.88,489.20 L942.77,489.48 L942.64,489.76 L942.51,490.02 L942.37,490.28 L942.21,490.53 L942.04,490.78 L941.87,491.01 L941.68,491.24 L941.48,491.46 L941.28,491.66 L941.07,491.86 L940.84,492.05 L940.61,492.22 L940.38,492.38 L940.13,492.53 L939.88,492.67 L939.63,492.79 L939.37,492.90 L939.10,493.00 L938.83,493.08 L938.56,493.16 L938.28,493.21 L938.01,493.25 L937.73,493.28 L937.45,493.30 L937.17,493.30 L936.89,493.28 L936.61,493.26 L936.33,493.21 L936.06,493.16 L935.78,493.09 L935.51,493.01 L935.25,492.91"/>
<path class="boss" d="M1026.13,478.91 L1025.90,478.85 L1025.68,478.79 L1025.45,478.71 L1025.23,478.61 L1025.02,478.51 L1024.80,478.39 L1024.60,478.26 L1024.39,478.12 L1024.20,477.97 L1024.01,477.81 L1023.82,477.63 L1023.65,477.45 L1023.48,477.26 L1023.32,477.06 L1023.16,476.85 L1023.02,476.63 L1022.88,476.40 L1022.75,476.16 L1022.63,475.92 L1022.52,475.68 L1022.43,475.42 L1022.34,475.16 L1022.26,474.90 L1022.19,474.63 L1022.13,474.36 L1022.08,474.09 L1022.05,473.81 L1022.02,473.53 L1022.00,473.25 L1022.00,472.97 L1022.01,472.69 L1022.02,472.41 L1022.05,472.13 L1022.09,471.86 L1022.14,471.58 L1022.20,471.31 L1022.27,471.05 L1022.35,470.78 L1022.45,470.52 L1022.55,470.27 L1022.66,470.03 L1022.78,469.79 L1022.91,469.55 L1023.05,469.33 L1023.19,469.11 L1023.35,468.90 L1023.51,468.70 L1023.68,468.51 L1023.86,468.33 L1024.05,468.16 L1024.24,468.00 L1024.44,467.85 L1024.64,467.71 L1024.85,467.58 L1025.06,467.47 L1025.28,467.37 L1025.50,467.28 L1025.72,467.20 L1025.95,467.13 L1026.18,467.08 L1026.41,467.04 L1026.64,467.02 L1026.88,467.00 L1027.11,467.00 L1027.34,467.01 L1027.58,467.04 L1027.81,467.08 L1028.04,467.13 L1028.26,467.20 L1028.49,467.27 L1028.71,467.36"/>
<path class="kb" d="M1029.61,468.08 L1029.75,468.12 L1029.89,468.17 L1030.03,468.22 L1030.17,468.29 L1030.31,468.36 L1030.44,468.45 L1030.58,468.54 L1030.71,468.63 L1030.83,468.74 L1030.95,468.85 L1031.07,468.97 L1031.19,469.10 L1031.30,469.23 L1031.41,469.37 L1031.51,469.52 L1031.61,469.67 L1031.71,469.83 L1031.80,470.00 L1031.88,470.17 L1031.96,470.34 L1032.04,470.52 L1032.11,470.70 L1032.17,470.89 L1032.23,471.08 L1032.29,471.28 L1032.33,471.48 L1032.38,471.68 L1032.41,471.88 L1032.44,472.08 L1032.46,472.29 L1032.48,472.50 L1032.49,472.71 L1032.50,472.91 L1032.50,473.12 L1032.49,473.33 L1032.48,473.54 L1032.46,473.75 L1032.44,473.95 L1032.40,474.16 L1032.37,474.36 L1032.33,474.56 L1032.28,474.76 L1032.22,474.95 L1032.16,475.14 L1032.10,475.33 L1032.03,475.51 L1031.95,475.69 L1031.87,475.86 L1031.78,476.03 L1031.69,476.20 L1031.60,476.35 L1031.50,476.50 L1031.39,476.65 L1031.28,476.79 L1031.17,476.92 L1031.05,477.05 L1030.93,477.17 L1030.81,477.28 L1030.68,477.38 L1030.55,477.48 L1030.42,477.57 L1030.29,477.65 L1030.15,477.72 L1030.01,477.79 L1029.87,477.84 L1029.73,477.89 L1029.58,477.93 L1029.44,477.96 L1029.29,477.98 L1029.15,478.00 L1029.00,478.00"/>
<path class="dot" d="M1028.04,466.60 L1028.32,466.66 L1028.59,466.73 L1028.86,466.82 L1029.12,466.92 L1029.38,467.03 L1029.64,467.16 L1029.88,467.30 L1030.13,467.45 L1030.36,467.62 L1030.59,467.79 L1030.81,467.98 L1031.02,468.18 L1031.23,468.39 L1031.42,468.61 L1031.61,468.83 L1031.78,469.07 L1031.94,469.32 L1032.10,469.57 L1032.24,469.83 L1032.37,470.10 L1032.49,470.38 L1032.60,470.66 L1032.69,470.94 L1032.77,471.23 L1032.84,471.53 L1032.90,471.82 L1032.95,472.12 L1032.98,472.43 L1032.99,472.73 L1033.00,473.03 L1032.99,473.34 L1032.97,473.64 L1032.94,473.94 L1032.89,474.24 L1032.83,474.54 L1032.76,474.83 L1032.67,475.12 L1032.58,475.40 L1032.47,475.68 L1032.34,475.96 L1032.21,476.22 L1032.07,476.48 L1031.91,476.73 L1031.74,476.98 L1031.57,477.21 L1031.38,477.44 L1031.18,477.66 L1030.98,477.86 L1030.77,478.06 L1030.54,478.25 L1030.31,478.42 L1030.08,478.58 L1029.83,478.73 L1029.58,478.87 L1029.33,478.99 L1029.07,479.10 L1028.80,479.20 L1028.53,479.28 L1028.26,479.36 L1027.98,479.41 L1027.71,479.45 L1027.43,479.48 L1027.15,479.50 L1026.87,479.50 L1026.59,479.48 L1026.31,479.46 L1026.03,479.41 L1025.76,479.36 L1025.48,479.29 L1025.21,479.21 L1024.95,479.11"/>
<path class="kb" d="M1247.75,349.11 L1247.51,349.01 L1247.28,348.90 L1247.06,348.78 L1246.84,348.65 L1246.62,348.51 L1246.41,348.37 L1246.21,348.21 L1246.01,348.04 L1245.82,347.86 L1245.64,347.68 L1245.46,347.49 L1245.29,347.29 L1245.13,347.08 L1244.98,346.86 L1244.83,346.64 L1244.69,346.41 L1244.57,346.18 L1244.45,345.94 L1244.34,345.70 L1244.24,345.45 L1244.15,345.19 L1244.07,344.94 L1244.00,344.67 L1243.94,344.41 L1243.89,344.14 L1243.85,343.88 L1243.83,343.61 L1243.81,343.34 L1243.80,343.06 L1243.80,342.79 L1243.82,342.52 L1243.84,342.25 L1243.87,341.98 L1243.92,341.71 L1243.97,341.45 L1244.04,341.19 L1244.11,340.93 L1244.20,340.67 L1244.29,340.42 L1244.40,340.17 L1244.51,339.93 L1244.63,339.69 L1244.77,339.46 L1244.91,339.24 L1245.06,339.02 L1245.21,338.81 L1245.38,338.61 L1245.55,338.41 L1245.73,338.22 L1245.92,338.04 L1246.12,337.87 L1246.32,337.71 L1246.52,337.55 L1246.74,337.41 L1246.95,337.28 L1247.18,337.15 L1247.41,337.04 L1247.64,336.94 L1247.87,336.84 L1248.11,336.76 L1248.35,336.69 L1248.60,336.63 L1248.85,336.58 L1249.09,336.55 L1249.34,336.52 L1249.59,336.50 L1249.84,336.50 L1250.09,336.51 L1250.34,336.53 L1250.59,336.56 L1250.84,336.60"/>
<path class="dot" d="M1250.84,336.60 L1251.12,336.66 L1251.39,336.73 L1251.66,336.82 L1251.92,336.92 L1252.18,337.03 L1252.44,337.16 L1252.68,337.30 L1252.93,337.45 L1253.16,337.62 L1253.39,337.79 L1253.61,337.98 L1253.82,338.18 L1254.03,338.39 L1254.22,338.61 L1254.41,338.83 L1254.58,339.07 L1254.74,339.32 L1254.90,339.57 L1255.04,339.83 L1255.17,340.10 L1255.29,340.38 L1255.40,340.66 L1255.49,340.94 L1255.57,341.23 L1255.64,341.53 L1255.70,341.82 L1255.75,342.12 L1255.78,342.43 L1255.79,342.73 L1255.80,343.03 L1255.79,343.34 L1255.77,343.64 L1255.74,343.94 L1255.69,344.24 L1255.63,344.54 L1255.56,344.83 L1255.47,345.12 L1255.38,345.40 L1255.27,345.68 L1255.14,345.96 L1255.01,346.22 L1254.87,346.48 L1254.71,346.73 L1254.54,346.98 L1254.37,347.21 L1254.18,347.44 L1253.98,347.66 L1253.78,347.86 L1253.57,348.06 L1253.34,348.25 L1253.11,348.42 L1252.88,348.58 L1252.63,348.73 L1252.38,348.87 L1252.13,348.99 L1251.87,349.10 L1251.60,349.20 L1251.33,349.28 L1251.06,349.36 L1250.78,349.41 L1250.51,349.45 L1250.23,349.48 L1249.95,349.50 L1249.67,349.50 L1249.39,349.48 L1249.11,349.46 L1248.83,349.41 L1248.56,349.36 L1248.28,349.29 L1248.01,349.21 L1247.75,349.11"/>
<path class="boss" d="M1161.13,363.41 L1160.90,363.35 L1160.68,363.29 L1160.45,363.21 L1160.23,363.11 L1160.02,363.01 L1159.80,362.89 L1159.60,362.76 L1159.39,362.62 L1159.20,362.47 L1159.01,362.31 L1158.82,362.13 L1158.65,361.95 L1158.48,361.76 L1158.32,361.56 L1158.16,361.35 L1158.02,361.13 L1157.88,360.90 L1157.75,360.66 L1157.63,360.42 L1157.52,360.18 L1157.43,359.92 L1157.34,359.66 L1157.26,359.40 L1157.19,359.13 L1157.13,358.86 L1157.08,358.59 L1157.05,358.31 L1157.02,358.03 L1157.00,357.75 L1157.00,357.47 L1157.01,357.19 L1157.02,356.91 L1157.05,356.63 L1157.09,356.36 L1157.14,356.08 L1157.20,355.81 L1157.27,355.55 L1157.35,355.28 L1157.45,355.02 L1157.55,354.77 L1157.66,354.53 L1157.78,354.29 L1157.91,354.05 L1158.05,353.83 L1158.19,353.61 L1158.35,353.40 L1158.51,353.20 L1158.68,353.01 L1158.86,352.83 L1159.05,352.66 L1159.24,352.50 L1159.44,352.35 L1159.64,352.21 L1159.85,352.08 L1160.06,351.97 L1160.28,351.87 L1160.50,351.78 L1160.72,351.70 L1160.95,351.63 L1161.18,351.58 L1161.41,351.54 L1161.64,351.52 L1161.88,351.50 L1162.11,351.50 L1162.34,351.51 L1162.58,351.54 L1162.81,351.58 L1163.04,351.63 L1163.26,351.70 L1163.49,351.77 L1163.71,351.86"/>
<path class="kb" d="M1164.61,352.58 L1164.75,352.62 L1164.89,352.67 L1165.03,352.72 L1165.17,352.79 L1165.31,352.86 L1165.44,352.95 L1165.58,353.04 L1165.71,353.13 L1165.83,353.24 L1165.95,353.35 L1166.07,353.47 L1166.19,353.60 L1166.30,353.73 L1166.41,353.87 L1166.51,354.02 L1166.61,354.17 L1166.71,354.33 L1166.80,354.50 L1166.88,354.67 L1166.96,354.84 L1167.04,355.02 L1167.11,355.20 L1167.17,355.39 L1167.23,355.58 L1167.29,355.78 L1167.33,355.98 L1167.38,356.18 L1167.41,356.38 L1167.44,356.58 L1167.46,356.79 L1167.48,357.00 L1167.49,357.21 L1167.50,357.41 L1167.50,357.62 L1167.49,357.83 L1167.48,358.04 L1167.46,358.25 L1167.44,358.45 L1167.40,358.66 L1167.37,358.86 L1167.33,359.06 L1167.28,359.26 L1167.22,359.45 L1167.16,359.64 L1167.10,359.83 L1167.03,360.01 L1166.95,360.19 L1166.87,360.36 L1166.78,360.53 L1166.69,360.70 L1166.60,360.85 L1166.50,361.00 L1166.39,361.15 L1166.28,361.29 L1166.17,361.42 L1166.05,361.55 L1165.93,361.67 L1165.81,361.78 L1165.68,361.88 L1165.55,361.98 L1165.42,362.07 L1165.29,362.15 L1165.15,362.22 L1165.01,362.29 L1164.87,362.34 L1164.73,362.39 L1164.58,362.43 L1164.44,362.46 L1164.29,362.48 L1164.15,362.50 L1164.00,362.50"/>
<path class="dot" d="M1163.04,351.10 L1163.32,351.16 L1163.59,351.23 L1163.86,351.32 L1164.12,351.42 L1164.38,351.53 L1164.64,351.66 L1164.88,351.80 L1165.13,351.95 L1165.36,352.12 L1165.59,352.29 L1165.81,352.48 L1166.02,352.68 L1166.23,352.89 L1166.42,353.11 L1166.61,353.33 L1166.78,353.57 L1166.94,353.82 L1167.10,354.07 L1167.24,354.33 L1167.37,354.60 L1167.49,354.88 L1167.60,355.16 L1167.69,355.44 L1167.77,355.73 L1167.84,356.03 L1167.90,356.32 L1167.95,356.62 L1167.98,356.93 L1167.99,357.23 L1168.00,357.53 L1167.99,357.84 L1167.97,358.14 L1167.94,358.44 L1167.89,358.74 L1167.83,359.04 L1167.76,359.33 L1167.67,359.62 L1167.58,359.90 L1167.47,360.18 L1167.34,360.46 L1167.21,360.72 L1167.07,360.98 L1166.91,361.23 L1166.74,361.48 L1166.57,361.71 L1166.38,361.94 L1166.18,362.16 L1165.98,362.36 L1165.77,362.56 L1165.54,362.75 L1165.31,362.92 L1165.08,363.08 L1164.83,363.23 L1164.58,363.37 L1164.33,363.49 L1164.07,363.60 L1163.80,363.70 L1163.53,363.78 L1163.26,363.86 L1162.98,363.91 L1162.71,363.95 L1162.43,363.98 L1162.15,364.00 L1161.87,364.00 L1161.59,363.98 L1161.31,363.96 L1161.03,363.91 L1160.76,363.86 L1160.48,363.79 L1160.21,363.71 L1159.95,363.61"/>
<path class="kb" d="M1153.65,461.81 L1153.41,461.71 L1153.18,461.60 L1152.96,461.48 L1152.74,461.35 L1152.52,461.21 L1152.31,461.07 L1152.11,460.91 L1151.91,460.74 L1151.72,460.56 L1151.54,460.38 L1151.36,460.19 L1151.19,459.99 L1151.03,459.78 L1150.88,459.56 L1150.73,459.34 L1150.59,459.11 L1150.47,458.88 L1150.35,458.64 L1150.24,458.40 L1150.14,458.15 L1150.05,457.89 L1149.97,457.64 L1149.90,457.37 L1149.84,457.11 L1149.79,456.84 L1149.75,456.58 L1149.73,456.31 L1149.71,456.04 L1149.70,455.76 L1149.70,455.49 L1149.72,455.22 L1149.74,454.95 L1149.77,454.68 L1149.82,454.41 L1149.87,454.15 L1149.94,453.89 L1150.01,453.63 L1150.10,453.37 L1150.19,453.12 L1150.30,452.87 L1150.41,452.63 L1150.53,452.39 L1150.67,452.16 L1150.81,451.94 L1150.96,451.72 L1151.11,451.51 L1151.28,451.31 L1151.45,451.11 L1151.63,450.92 L1151.82,450.74 L1152.02,450.57 L1152.22,450.41 L1152.42,450.25 L1152.64,450.11 L1152.85,449.98 L1153.08,449.85 L1153.31,449.74 L1153.54,449.64 L1153.77,449.54 L1154.01,449.46 L1154.25,449.39 L1154.50,449.33 L1154.75,449.28 L1154.99,449.25 L1155.24,449.22 L1155.49,449.20 L1155.74,449.20 L1155.99,449.21 L1156.24,449.23 L1156.49,449.26 L1156.74,449.30"/>
<path class="dot" d="M1156.74,449.30 L1157.02,449.36 L1157.29,449.43 L1157.56,449.52 L1157.82,449.62 L1158.08,449.73 L1158.34,449.86 L1158.58,450.00 L1158.83,450.15 L1159.06,450.32 L1159.29,450.49 L1159.51,450.68 L1159.72,450.88 L1159.93,451.09 L1160.12,451.31 L1160.31,451.53 L1160.48,451.77 L1160.64,452.02 L1160.80,452.27 L1160.94,452.53 L1161.07,452.80 L1161.19,453.08 L1161.30,453.36 L1161.39,453.64 L1161.47,453.93 L1161.54,454.23 L1161.60,454.52 L1161.65,454.82 L1161.68,455.13 L1161.69,455.43 L1161.70,455.73 L1161.69,456.04 L1161.67,456.34 L1161.64,456.64 L1161.59,456.94 L1161.53,457.24 L1161.46,457.53 L1161.37,457.82 L1161.28,458.10 L1161.17,458.38 L1161.04,458.66 L1160.91,458.92 L1160.77,459.18 L1160.61,459.43 L1160.44,459.68 L1160.27,459.91 L1160.08,460.14 L1159.88,460.36 L1159.68,460.56 L1159.47,460.76 L1159.24,460.95 L1159.01,461.12 L1158.78,461.28 L1158.53,461.43 L1158.28,461.57 L1158.03,461.69 L1157.77,461.80 L1157.50,461.90 L1157.23,461.98 L1156.96,462.06 L1156.68,462.11 L1156.41,462.15 L1156.13,462.18 L1155.85,462.20 L1155.57,462.20 L1155.29,462.18 L1155.01,462.16 L1154.73,462.11 L1154.46,462.06 L1154.18,461.99 L1153.91,461.91 L1153.65,461.81"/>
<path class="boss" d="M1245.83,446.11 L1245.60,446.05 L1245.38,445.99 L1245.15,445.91 L1244.93,445.81 L1244.72,445.71 L1244.50,445.59 L1244.30,445.46 L1244.09,445.32 L1243.90,445.17 L1243.71,445.01 L1243.52,444.83 L1243.35,444.65 L1243.18,444.46 L1243.02,444.26 L1242.86,444.05 L1242.72,443.83 L1242.58,443.60 L1242.45,443.36 L1242.33,443.12 L1242.22,442.88 L1242.13,442.62 L1242.04,442.36 L1241.96,442.10 L1241.89,441.83 L1241.83,441.56 L1241.78,441.29 L1241.75,441.01 L1241.72,440.73 L1241.70,440.45 L1241.70,440.17 L1241.71,439.89 L1241.72,439.61 L1241.75,439.33 L1241.79,439.06 L1241.84,438.78 L1241.90,438.51 L1241.97,438.25 L1242.05,437.98 L1242.15,437.72 L1242.25,437.47 L1242.36,437.23 L1242.48,436.99 L1242.61,436.75 L1242.75,436.53 L1242.89,436.31 L1243.05,436.10 L1243.21,435.90 L1243.38,435.71 L1243.56,435.53 L1243.75,435.36 L1243.94,435.20 L1244.14,435.05 L1244.34,434.91 L1244.55,434.78 L1244.76,434.67 L1244.98,434.57 L1245.20,434.48 L1245.42,434.40 L1245.65,434.33 L1245.88,434.28 L1246.11,434.24 L1246.34,434.22 L1246.58,434.20 L1246.81,434.20 L1247.04,434.21 L1247.28,434.24 L1247.51,434.28 L1247.74,434.33 L1247.96,434.40 L1248.19,434.47 L1248.41,434.56"/>
<path class="kb" d="M1249.31,435.28 L1249.45,435.32 L1249.59,435.37 L1249.73,435.42 L1249.87,435.49 L1250.01,435.56 L1250.14,435.65 L1250.28,435.74 L1250.41,435.83 L1250.53,435.94 L1250.65,436.05 L1250.77,436.17 L1250.89,436.30 L1251.00,436.43 L1251.11,436.57 L1251.21,436.72 L1251.31,436.87 L1251.41,437.03 L1251.50,437.20 L1251.58,437.37 L1251.66,437.54 L1251.74,437.72 L1251.81,437.90 L1251.87,438.09 L1251.93,438.28 L1251.99,438.48 L1252.03,438.68 L1252.08,438.88 L1252.11,439.08 L1252.14,439.28 L1252.16,439.49 L1252.18,439.70 L1252.19,439.91 L1252.20,440.11 L1252.20,440.32 L1252.19,440.53 L1252.18,440.74 L1252.16,440.95 L1252.14,441.15 L1252.10,441.36 L1252.07,441.56 L1252.03,441.76 L1251.98,441.96 L1251.92,442.15 L1251.86,442.34 L1251.80,442.53 L1251.73,442.71 L1251.65,442.89 L1251.57,443.06 L1251.48,443.23 L1251.39,443.40 L1251.30,443.55 L1251.20,443.70 L1251.09,443.85 L1250.98,443.99 L1250.87,444.12 L1250.75,444.25 L1250.63,444.37 L1250.51,444.48 L1250.38,444.58 L1250.25,444.68 L1250.12,444.77 L1249.99,444.85 L1249.85,444.92 L1249.71,444.99 L1249.57,445.04 L1249.43,445.09 L1249.28,445.13 L1249.14,445.16 L1248.99,445.18 L1248.85,445.20 L1248.70,445.20"/>
<path class="dot" d="M1247.74,433.80 L1248.02,433.86 L1248.29,433.93 L1248.56,434.02 L1248.82,434.12 L1249.08,434.23 L1249.34,434.36 L1249.58,434.50 L1249.83,434.65 L1250.06,434.82 L1250.29,434.99 L1250.51,435.18 L1250.72,435.38 L1250.93,435.59 L1251.12,435.81 L1251.31,436.03 L1251.48,436.27 L1251.64,436.52 L1251.80,436.77 L1251.94,437.03 L1252.07,437.30 L1252.19,437.58 L1252.30,437.86 L1252.39,438.14 L1252.47,438.43 L1252.54,438.73 L1252.60,439.02 L1252.65,439.32 L1252.68,439.63 L1252.69,439.93 L1252.70,440.23 L1252.69,440.54 L1252.67,440.84 L1252.64,441.14 L1252.59,441.44 L1252.53,441.74 L1252.46,442.03 L1252.37,442.32 L1252.28,442.60 L1252.17,442.88 L1252.04,443.16 L1251.91,443.42 L1251.77,443.68 L1251.61,443.93 L1251.44,444.18 L1251.27,444.41 L1251.08,444.64 L1250.88,444.86 L1250.68,445.06 L1250.47,445.26 L1250.24,445.45 L1250.01,445.62 L1249.78,445.78 L1249.53,445.93 L1249.28,446.07 L1249.03,446.19 L1248.77,446.30 L1248.50,446.40 L1248.23,446.48 L1247.96,446.56 L1247.68,446.61 L1247.41,446.65 L1247.13,446.68 L1246.85,446.70 L1246.57,446.70 L1246.29,446.68 L1246.01,446.66 L1245.73,446.61 L1245.46,446.56 L1245.18,446.49 L1244.91,446.41 L1244.65,446.31"/>
<path class="k" d="M937.3,451.6 L1030,439.9 M940.5,457 L1027,445.8 M945.9,468.7 L1021.6,460.1"/>
<path class="t" d="M1204.3,344 L1204.3,395 Q1204,420 1170,423.6 L1158.9,425 M1211.6,344 L1211.6,400 Q1210,428 1170,430 M1227,348 L1227,409 Q1225,438 1175,440.2 L1158.9,442"/>
<g transform="translate(1395.00,418.50) rotate(26.76)"><path class="k" d="M100.34,-4.6 L0,-4.6 Q-4.6,-4.6 -4.6,0 Q-4.6,4.6 0,4.6 L100.34,4.6"/><path class="hatch" d="M2,0 L97.84,0"/><circle class="k" cx="106.84" cy="0" r="8.6" style="fill:#fff"/><path class="kb" d="M107.34,-5 L106.34,5 M101.34,0 L111.84,0" transform="rotate(-34.76 106.84 0)"/></g>
<g transform="translate(1305.50,519.50) rotate(26.06)"><path class="k" d="M99.81,-4.6 L0,-4.6 Q-4.6,-4.6 -4.6,0 Q-4.6,4.6 0,4.6 L99.81,4.6"/><path class="hatch" d="M2,0 L97.31,0"/><circle class="k" cx="106.31" cy="0" r="8.6" style="fill:#fff"/><path class="kb" d="M106.81,-5 L105.81,5 M100.81,0 L111.31,0" transform="rotate(-34.06 106.31 0)"/></g>
<g transform="translate(1317.00,616.50) rotate(25.84)"><path class="k" d="M99.50,-4.6 L0,-4.6 Q-4.6,-4.6 -4.6,0 Q-4.6,4.6 0,4.6 L99.50,4.6"/><path class="hatch" d="M2,0 L97.00,0"/><circle class="k" cx="106.00" cy="0" r="8.6" style="fill:#fff"/><path class="kb" d="M106.50,-5 L105.50,5 M100.50,0 L111.00,0" transform="rotate(-33.84 106.00 0)"/></g>
<g transform="translate(1060.50,553.00) rotate(26.78)"><path class="k" d="M99.13,-4.6 L0,-4.6 Q-4.6,-4.6 -4.6,0 Q-4.6,4.6 0,4.6 L99.13,4.6"/><path class="hatch" d="M2,0 L96.63,0"/><circle class="k" cx="105.63" cy="0" r="8.6" style="fill:#fff"/><path class="kb" d="M106.13,-5 L105.13,5 M100.13,0 L110.63,0" transform="rotate(-34.78 105.63 0)"/></g>
<path class="t" d="M1439.3,418.8 L1439.3,433.6 M1118.4,560 L1118.4,574"/>
<path style="fill:none;stroke:#000;stroke-width:0.85" d="M703.1,650.9 L956,781.7"/>
<path class="cl" d="M112.60,626.70 L336.90,741.80"/>
<path class="cl" d="M468.90,816.60 L532.70,850.30"/>
<path class="cl" d="M315.90,581.20 L691.00,774.00"/>
<path class="cl" d="M942.70,936.30 L983.50,960.00"/>
<path class="cl" d="M1267.00,349.70 L1390.50,412.60"/>
<path class="cl" d="M1046.20,382.30 L1301.70,512.50"/>
<path class="cl" d="M956.00,498.00 L1056.00,548.00"/>
<path class="cl" d="M1158.00,458.00 L1259.20,508.00 L1259.20,584.00 L1311.50,610.00"/>
<text x="442.0" y="543.0" class="lbl">2</text>
<text x="390.0" y="897.5" class="lbl">3</text>
<text x="569.0" y="1109.8" class="lbl">3</text>
<rect x="589.0" y="1106.5" width="2.3" height="2.3"/>
<path class="g1" d="M598.6,1093.5 Q601.9,1091.5 604.4,1088.0 L604.4,1108.8"/>
<text x="632.0" y="1003.7" class="lbl">3</text>
<rect x="652.0" y="1000.4" width="2.3" height="2.3"/>
<text x="658.0" y="1003.7" class="lbl">3</text>
<text x="632.4" y="1041.0" class="lbl">3</text>
<rect x="652.4" y="1037.7" width="2.3" height="2.3"/>
<text x="658.4" y="1041.0" class="lbl">2</text>
<text x="811.9" y="690.0" class="lbl">2</text>
<rect x="831.8" y="686.7" width="2.3" height="2.3"/>
<path class="g1" d="M841.6,673.5 Q844.9,671.5 847.4,668.0 L847.4,689.0"/>
<text x="731.4" y="759.7" class="lbl">2</text>
<rect x="751.4" y="756.4" width="2.3" height="2.3"/>
<text x="757.4" y="759.7" class="lbl">2</text>
<path class="g1" d="M1151.7,967.5 Q1155.0,965.5 1157.5,962.0 L1157.5,982.0"/>
<path class="g1" d="M933.1,1093.5 Q936.4,1091.5 938.9,1088.0 L938.9,1107.7"/>
<rect x="949.0" y="1105.4" width="2.3" height="2.3"/>
<path class="g1" d="M958.7,1093.5 Q962.0,1091.5 964.5,1088.0 L964.5,1107.7"/>
<path class="g1" d="M933.1,1126.5 Q936.4,1124.5 938.9,1121.0 L938.9,1140.7"/>
<rect x="949.0" y="1138.4" width="2.3" height="2.3"/>
<text x="955.0" y="1141.7" class="lbl">3</text>
<text x="752.0" y="422.8" class="lbl">2</text>
<rect x="774.0" y="419.5" width="2.3" height="2.3"/>
<text x="777.8" y="422.8" class="lbl">7</text>
<text x="1414.4" y="412.4" class="lbl">2</text>
<rect x="1436.4" y="409.1" width="2.3" height="2.3"/>
<text x="1440.4" y="412.4" class="lbl">8</text>
<text x="1360.0" y="523.4" class="lbl">2</text>
<rect x="1382.0" y="520.1" width="2.3" height="2.3"/>
<text x="1386.0" y="523.4" class="lbl">8</text>
<text x="1335.4" y="688.7" class="lbl">2</text>
<rect x="1357.4" y="685.4" width="2.3" height="2.3"/>
<text x="1361.4" y="688.7" class="lbl">8</text>
<text x="1098.0" y="548.5" class="lbl">2</text>
<rect x="1120.0" y="545.2" width="2.3" height="2.3"/>
<text x="1124.0" y="548.5" class="lbl">8</text>
<text y="457" class="title"><tspan x="70">4</tspan><tspan x="90.2">4</tspan><tspan x="111">5</tspan><tspan x="131.7">5</tspan><tspan x="162">.</tspan><tspan x="183">.</tspan><tspan x="203.2">.</tspan></text>
</svg></body></html>
